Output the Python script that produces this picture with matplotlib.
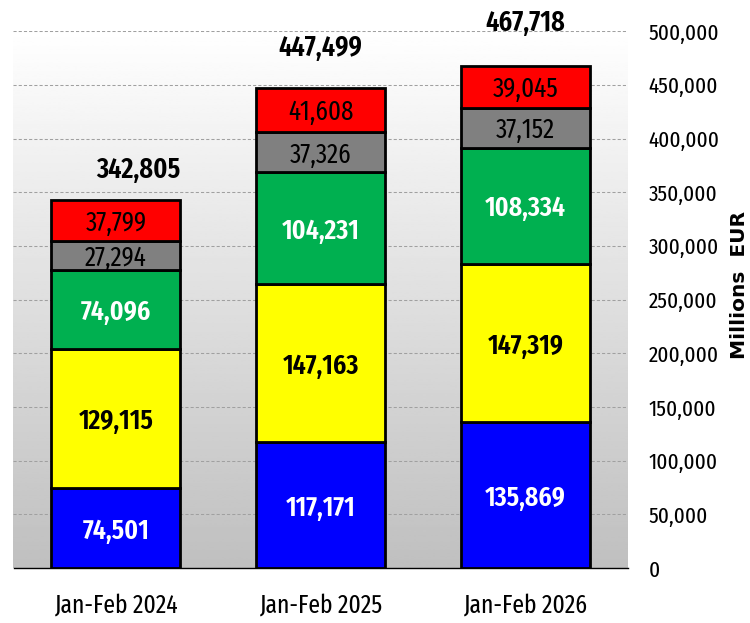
import numpy as np
import matplotlib.pyplot as plt
from matplotlib.ticker import FuncFormatter

periods = ['Jan-Feb 2024', 'Jan-Feb 2025', 'Jan-Feb 2026']
blue = [74501, 117171, 135869]
yellow = [129115, 147163, 147319]
green = [74096, 104231, 108334]
grey = [27294, 37326, 37152]
red = [37799, 41608, 39045]
totals = [342805, 447499, 467718]

# desplazamiento de las etiquetas de total (puntos)
tot_dx = [16, 0, 0]
tot_dy = [24, 31, 33]

plt.rcParams['font.family'] = ['Fira Sans Extra Condensed', 'DejaVu Sans']

fig = plt.figure(figsize=(7.5, 6.23), dpi=100)
ax = fig.add_axes([0.018, 0.088, 0.819, 0.862])

# fondo degradado
grad = np.linspace(0.75, 1.0, 256).reshape(-1, 1)
ax.imshow(grad, cmap='gray', vmin=0, vmax=1, aspect='auto',
          extent=[0, 1, 0, 1], transform=ax.transAxes, zorder=0, origin='lower')

x = np.arange(len(periods))
series = [(blue, '#0000FF', 'white', 600),
          (yellow, '#FFFF00', 'black', 600),
          (green, '#00B050', 'white', 600),
          (grey, '#808080', 'black', 'normal'),
          (red, '#FF0000', 'black', 'normal')]
bottom = np.zeros(len(periods))
for vals, col, tcol, w in series:
    vals = np.array(vals)
    ax.bar(x, vals, 0.63, bottom=bottom, color=col, edgecolor='black',
           linewidth=2, zorder=3)
    for xi, b, v in zip(x, bottom, vals):
        ax.text(xi, b + v / 2, f'{v:,}', ha='center', va='center_baseline',
                color=tcol, fontsize=20 if w == 600 else 19.5, fontweight=w, zorder=4)
    bottom = bottom + vals

for xi, t, dx, dy in zip(x, totals, tot_dx, tot_dy):
    ax.annotate(f'{t:,}', (xi, t), xytext=(dx, dy), textcoords='offset points',
                ha='center', va='center_baseline', fontsize=20.5, fontweight=600)

ax.set_xlim(-0.5, 2.5)
ax.set_ylim(0, 500000)
ax.set_yticks(np.arange(0, 500001, 50000))
ax.yaxis.set_major_formatter(FuncFormatter(lambda v, p: f'{int(v):,}'))
ax.yaxis.tick_right()
ax.set_xticks(x)
ax.set_xticklabels(periods)
ax.tick_params(axis='x', length=0, labelsize=18.5, pad=18)
ax.tick_params(axis='y', length=0, labelsize=16.5, pad=15)
ax.grid(axis='y', color='#a0a0a0', linestyle=(0, (3, 2)), linewidth=0.75, zorder=1)
ax.set_axisbelow(True)
for s in ['top', 'right', 'left']:
    ax.spines[s].set_visible(False)
ax.spines['bottom'].set_linewidth(1.0)

fig.text(0.986, 1 - 285 / 623, 'Millions  EUR', rotation=90, ha='center', va='center',
         fontsize=14.5, fontweight='bold', family=['DejaVu Sans'])

plt.savefig('out.png', dpi=100)
